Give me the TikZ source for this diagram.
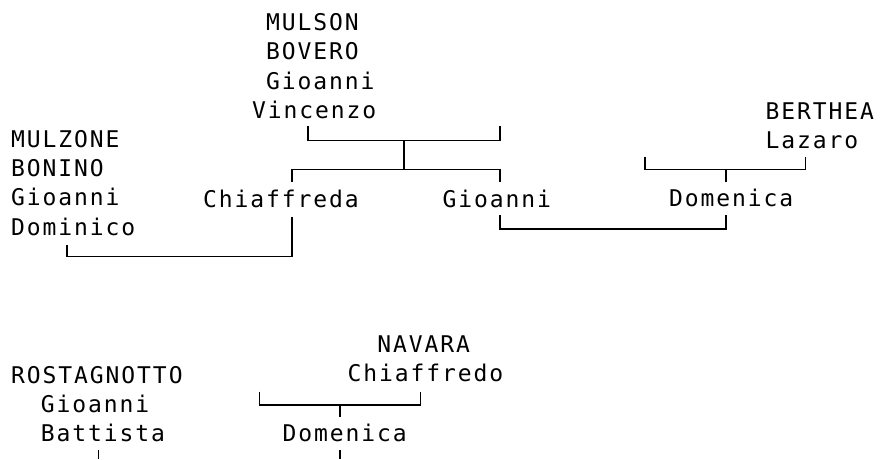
\documentclass[tikz,border=0pt]{standalone}
\usepackage{fontspec}
\newfontfamily\treefont[LetterSpace=8.3]{DejaVu Sans Mono}
\usetikzlibrary{positioning}

\begin{document}
\begin{tikzpicture}[x=1pt,y=-1pt]
\tikzstyle{every node}=[anchor=base west,inner sep=0pt,align=left,font=\fontsize{23}{29.2}\selectfont\treefont];
\tikzstyle{link}=[line width=1.3pt];
\useasboundingbox (0,0) rectangle (880,459);

% people (base = last line)
\node (mulson) at (252,118.2) {\hphantom{M}MULSON\\\hphantom{M}BOVERO\\\hphantom{M}Gioanni\\Vincenzo};
\node (mulzone) at (11,235) {MULZONE\\BONINO\\Gioanni\\Dominico};
\node (chiaffreda) at (203,207) {Chiaffreda};
\node (gioanni) at (442.5,207) {Gioanni};
\node (berthea) at (765.5,148.5) {BERTHEA\\Lazaro};
\node (domenica) at (669,206.7) {Domenica};
\node (navara) at (347.5,381.7) {\hphantom{MM}NAVARA\\Chiaffredo};
\node (rostagnotto) at (11,441.7) {ROSTAGNOTTO\\\hphantom{MM}Gioanni\\\hphantom{MM}Battista};
\node (domenicab) at (282.5,441.7) {Domenica};

% junctions
\coordinate (mulsonL) at (308,126);
\coordinate (mulsonR) at (500,126);
\coordinate (j1) at (404,140.5);
\coordinate (j2) at (404,169.3);
\coordinate (chiaffredaU) at (292,181.7);
\coordinate (gioanniU) at (500,181.7);
\coordinate (chiaffredaD) at (292,216.7);
\coordinate (mulzoneD) at (67,245);
\coordinate (j3) at (180,256.7);
\coordinate (gioanniD) at (500,215);
\coordinate (domenicaD) at (726,215);
\coordinate (j4) at (613,229);
\coordinate (bertheaL) at (645,156.7);
\coordinate (bertheaR) at (805.7,156.7);
\coordinate (j5) at (726,169.3);
\coordinate (domenicaU) at (726,181.7);
\coordinate (navaraL) at (259.3,391.7);
\coordinate (navaraR) at (420.7,391.7);
\coordinate (j6) at (340,405);
\coordinate (domenicabU) at (340,416.7);
\coordinate (domenicabD) at (340,450);
\coordinate (endb) at (340,459);
\coordinate (battistaD) at (98.3,450);
\coordinate (enda) at (98.3,459);

\draw[link] (mulsonL) |- (j1) -| (mulsonR)
	  (j1) -- (j2)
	  (chiaffredaU) |- (j2) -| (gioanniU)
	  (chiaffredaD) |- (j3) -| (mulzoneD)
	  (gioanniD) |- (j4) -| (domenicaD)
	  (bertheaL) |- (j5) -| (bertheaR)
	  (j5) -- (domenicaU)
	  (navaraL) |- (j6) -| (navaraR)
	  (j6) -- (domenicabU)
	  (domenicabD) -- (endb)
	  (battistaD) -- (enda);
\end{tikzpicture}
\end{document}
